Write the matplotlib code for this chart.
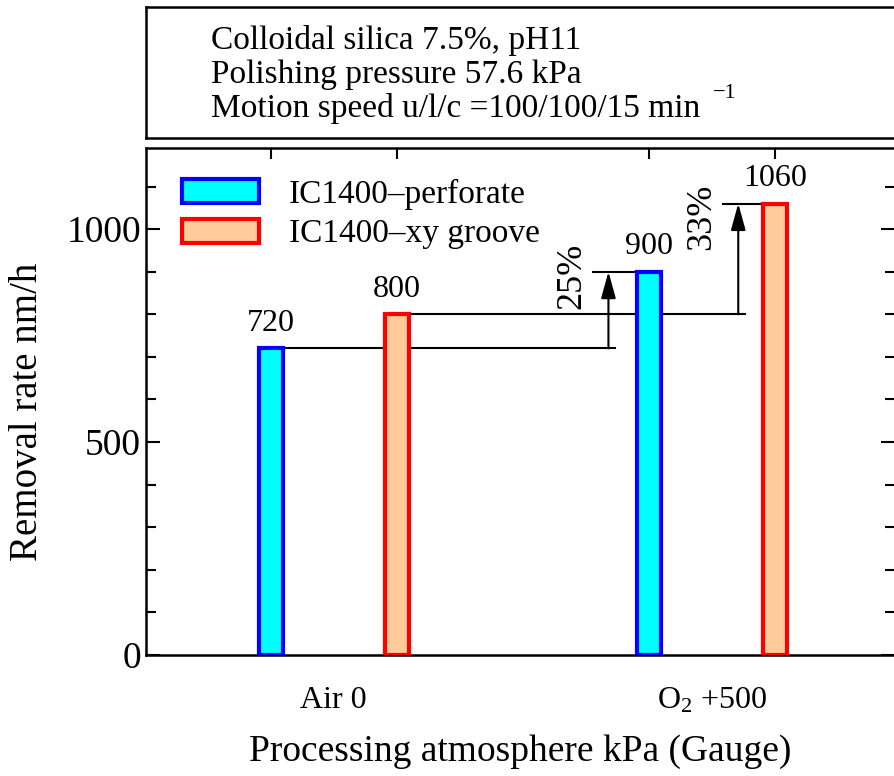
import matplotlib.pyplot as plt
from matplotlib.ticker import MultipleLocator

plt.rcParams['font.family'] = ['Liberation Serif', 'DejaVu Serif']
plt.rcParams['mathtext.fontset'] = 'custom'
plt.rcParams['mathtext.rm'] = 'Liberation Serif'
plt.rcParams['mathtext.it'] = 'Liberation Serif:italic'

# data
groups = ['Air 0', 'O$_2$ +500']
perforate = [720, 900]
xy_groove = [800, 1060]
gains = ['25%', '33%']
conditions = ['Colloidal silica 7.5%, pH11',
              'Polishing pressure 57.6 kPa',
              'Motion speed u/l/c =100/100/15 min']

fig = plt.figure(figsize=(8.95, 7.76), dpi=100)

# condition box on top
box = fig.add_axes([0.163, 0.822, 0.8365, 0.169])
box.set_xticks([])
box.set_yticks([])
for s in box.spines.values():
    s.set_linewidth(1.8)
line_y = [0.679, 0.42, 0.16]
for txt, yy in zip(conditions, line_y):
    t = box.text(0.087, yy, txt, fontsize=24, va='baseline', ha='left', transform=box.transAxes)
box.annotate('\u22121', xy=(1, 1), xycoords=t, xytext=(9, 0), textcoords='offset points',
             ha='left', va='center', fontsize=16)

ax = fig.add_axes([0.163, 0.156, 0.8365, 0.653])

pos_p = [i * 3 for i in range(len(groups))]
pos_g = [i * 3 + 1 for i in range(len(groups))]
w = 0.19
ax.bar(pos_p, perforate, width=w, color='#00FFFF', edgecolor='#0000FF', linewidth=3,
       label='IC1400\u2013perforate', zorder=3)
ax.bar(pos_g, xy_groove, width=w, color='#FFCC99', edgecolor='#FF0000', linewidth=3,
       label='IC1400\u2013xy groove', zorder=3)

for x, v in zip(pos_p + pos_g, perforate + xy_groove):
    ax.text(x, v + 25, str(v), ha='center', va='bottom', fontsize=23)

# increase arrows
base = [perforate[0], xy_groove[0]]
target = [perforate[1], xy_groove[1]]
start = [pos_p[0], pos_g[0]]
end = [pos_p[1], pos_g[1]]
arrow_x = [2.68, 3.71]
label_shift = [-10, -32]
for i in range(2):
    ax.plot([start[i] + w / 2, arrow_x[i] + 0.05], [base[i], base[i]], color='black', lw=1.5, zorder=2)
    ax.plot([arrow_x[i] - 0.12, end[i]], [target[i], target[i]], color='black', lw=1.5, zorder=2)
    ax.annotate('', xy=(arrow_x[i], target[i]), xytext=(arrow_x[i], base[i]),
                arrowprops=dict(arrowstyle='-|>,head_length=0.65,head_width=0.18', color='black',
                                lw=1.5, mutation_scale=25, shrinkA=0, shrinkB=0))
    ax.text(arrow_x[i] - 0.29, target[i] + label_shift[i], gains[i], rotation=90,
            ha='center', va='center', fontsize=26)

ax.set_xlim(-0.99, 4.95)
ax.set_ylim(0, 1190)
ax.set_xticks(pos_p + pos_g)
ax.tick_params(axis='x', which='both', bottom=False, top=True, labelbottom=False,
               direction='in', length=8, width=1.5)
ax.yaxis.set_major_locator(MultipleLocator(500))
ax.yaxis.set_minor_locator(MultipleLocator(100))
ax.tick_params(axis='y', which='both', left=True, right=True, direction='in', width=1.5,
               labelsize=27)
ax.tick_params(axis='y', which='major', length=10)
ax.tick_params(axis='y', which='minor', length=7)
for s in ax.spines.values():
    s.set_linewidth(1.8)

for i, g in enumerate(groups):
    ax.text(i * 3 + 0.5, -108, g, ha='center', va='center', fontsize=23)

ax.set_xlabel('Processing atmosphere kPa (Gauge)', fontsize=27, labelpad=57)
ax.set_ylabel('Removal rate nm/h', fontsize=28)
ax.yaxis.set_label_coords(-0.133, 0.48)

ax.legend(loc='upper left', bbox_to_anchor=(0.008, 0.999), frameon=False, fontsize=24,
          handlelength=2.3, handleheight=0.72, handletextpad=0.9, labelspacing=0.27)

plt.savefig('out.png', dpi=100)
